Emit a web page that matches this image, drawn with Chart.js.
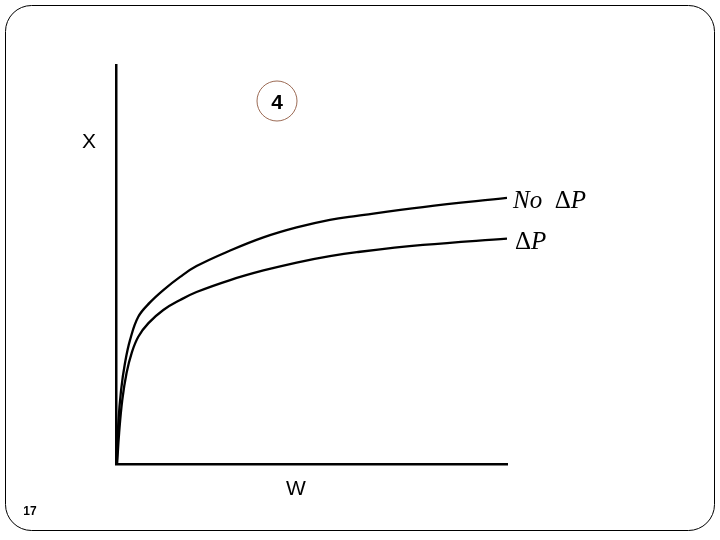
<!DOCTYPE html>
<html>
<head>
<meta charset="utf-8">
<script src="https://cdn.jsdelivr.net/npm/chart.js@4/dist/chart.umd.min.js"></script>
<style>
    html, body { margin: 0; padding: 0; background: #fff; }
    #wrap { width: 720px; height: 540px; position: relative; }
</style>
</head>
<body>
<div id="wrap"><canvas id="chart"></canvas></div>
<script>
// Values (axes run 0..100 in both directions)
const wNoDeltaP = [0.2, 0.6, 1.3, 2.3, 3.6, 5.7, 8.7, 12.1, 16.4, 20.6, 29.2, 37.7, 46.2, 54.7, 61.6, 78.5, 100];
const xNoDeltaP = [0.3, 10.3, 18.5, 25.3, 31.1, 36.9, 40.5, 43.6, 46.9, 49.6, 53.5, 56.8, 59.3, 61.2, 62.2, 64.4, 66.7];

const wDeltaP = [0.3, 0.8, 1.6, 2.7, 4.0, 5.7, 8.3, 12.1, 16.4, 20.6, 29.2, 37.7, 46.2, 54.7, 61.6, 78.5, 100];
const xDeltaP = [0.3, 7.8, 16.0, 22.8, 27.8, 31.9, 35.3, 38.6, 41.1, 43.1, 46.1, 48.5, 50.5, 52.1, 53.1, 54.9, 56.5];

const toPoints = (ws, xs) => ws.map((w, i) => ({ x: w, y: xs[i] }));

// Slide frame, circled page number and hand-placed labels
const slideDecor = {
    id: 'slideDecor',
    beforeDraw(chart) {
        const ctx = chart.ctx;
        ctx.save();
        ctx.fillStyle = '#fff';
        ctx.fillRect(0, 0, chart.width, chart.height);
        ctx.strokeStyle = '#000';
        ctx.lineWidth = 1;
        ctx.beginPath();
        ctx.roundRect(5.5, 5.5, 709, 525, 26);
        ctx.stroke();
        ctx.restore();
    },
    afterDraw(chart) {
        const ctx = chart.ctx;
        const { x, y } = chart.scales;
        ctx.save();
        ctx.fillStyle = '#000';
        ctx.textBaseline = 'alphabetic';

        // circled "4"
        ctx.strokeStyle = '#9c6b55';
        ctx.lineWidth = 1;
        ctx.beginPath();
        ctx.arc(277, 101, 20, 0, Math.PI * 2);
        ctx.stroke();
        ctx.font = 'bold 21px "Liberation Sans", Arial, sans-serif';
        ctx.textAlign = 'center';
        ctx.fillText('4', 277, 109);

        // axis letters
        ctx.font = '21px "Liberation Sans", Arial, sans-serif';
        ctx.fillText('X', 89, 148);
        ctx.fillText('W', 296, 495);

        // page number
        ctx.font = 'bold 12px "Liberation Sans", Arial, sans-serif';
        ctx.fillText('17', 30, 515);

        // curve labels: italic letters, upright delta
        const drawParts = (parts, px, py) => {
            ctx.textAlign = 'left';
            parts.forEach(p => {
                ctx.font = p.font;
                ctx.fillText(p.t, px, py);
                px += ctx.measureText(p.t).width;
            });
        };
        const it = 'italic 25px "Liberation Serif", "Times New Roman", serif';
        const up = '25px "Liberation Serif", "Times New Roman", serif';
        const endX = x.getPixelForValue(100);
        drawParts([{ t: 'No  ', font: it }, { t: 'Δ', font: up }, { t: 'P', font: it }],
            endX + 6, y.getPixelForValue(xNoDeltaP[xNoDeltaP.length - 1]) + 10);
        drawParts([{ t: 'Δ', font: up }, { t: 'P', font: it }],
            endX + 8, y.getPixelForValue(xDeltaP[xDeltaP.length - 1]) + 10);
        ctx.restore();
    }
};

new Chart(document.getElementById('chart'), {
    type: 'line',
    data: {
        datasets: [{
            label: 'No ΔP',
            data: toPoints(wNoDeltaP, xNoDeltaP),
            borderColor: '#000',
            borderWidth: 2.3,
            pointRadius: 0,
            tension: 0.4,
            fill: false
        }, {
            label: 'ΔP',
            data: toPoints(wDeltaP, xDeltaP),
            borderColor: '#000',
            borderWidth: 2.3,
            pointRadius: 0,
            tension: 0.4,
            fill: false
        }]
    },
    options: {
        responsive: true,
        maintainAspectRatio: false,
        animation: false,
        layout: {
            padding: { left: 116, right: 213, top: 65, bottom: 76 }
        },
        plugins: {
            legend: { display: false },
            tooltip: { enabled: false }
        },
        scales: {
            x: {
                type: 'linear',
                min: 0,
                max: 100,
                ticks: { display: false },
                grid: { display: false, drawTicks: false },
                border: { display: true, color: '#000', width: 2.5 }
            },
            y: {
                type: 'linear',
                min: 0,
                max: 100,
                ticks: { display: false },
                grid: { display: false, drawTicks: false },
                border: { display: true, color: '#000', width: 2.5 }
            }
        }
    },
    plugins: [slideDecor]
});
</script>
</body>
</html>
